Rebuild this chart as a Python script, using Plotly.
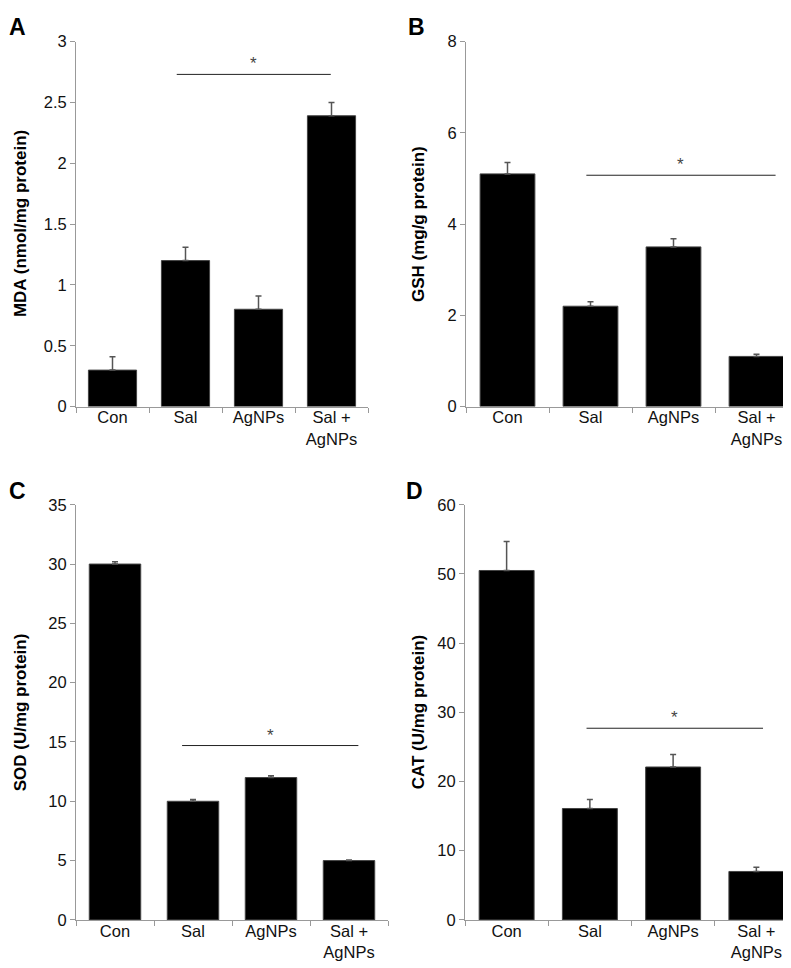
import plotly.graph_objects as go

categories = ["Con", "Sal", "AgNPs", "Sal +<br>AgNPs"]

mda = [0.30, 1.20, 0.80, 2.39]
mda_err = [0.11, 0.11, 0.11, 0.11]
gsh = [5.10, 2.20, 3.50, 1.10]
gsh_err = [0.25, 0.10, 0.18, 0.05]
sod = [30.0, 10.0, 12.0, 5.0]
sod_err = [0.2, 0.15, 0.15, 0.05]
cat = [50.5, 16.1, 22.1, 7.0]
cat_err = [4.2, 1.3, 1.8, 0.6]

y_titles = ["MDA (nmol/mg protein)", "GSH (mg/g protein)", "SOD (U/mg protein)", "CAT (U/mg protein)"]
panel_letters = ["A", "B", "C", "D"]
y_ranges = [[0, 3], [0, 8], [0, 35], [0, 60]]
y_dticks = [0.5, 2, 5, 10]
sig_y = [2.73, 5.07, 14.7, 27.7]
sig_x0 = [0.88, 0.95, 0.86, 0.96]
sig_x1 = [2.99, 3.23, 3.12, 3.08]

W, H = 791, 968
# plot-area pixel boxes: (left, right, top, bottom)
boxes = [(68, 360, 25, 397), (458, 790, 25, 397), (68, 380, 497, 920), (457, 790, 497, 920)]
title_x = [12, 410, 12, 410]
letter_pos = [(9, 10), (409, 10), (9, 483), (407, 483)]

FONT = "Liberation Sans, Arial, sans-serif"
fig = go.Figure()
values = [mda, gsh, sod, cat]
errs = [mda_err, gsh_err, sod_err, cat_err]

for i in range(4):
    xa = "x" if i == 0 else f"x{i+1}"
    ya = "y" if i == 0 else f"y{i+1}"
    fig.add_trace(go.Bar(
        x=categories, y=values[i], xaxis=xa, yaxis=ya,
        marker=dict(color="black", line=dict(color="#444", width=1)),
        error_y=dict(type="data", symmetric=False, array=errs[i], arrayminus=[0]*4,
                     color="#555", thickness=1.5, width=3),
        showlegend=False, hoverinfo="skip"))
    l, r, t, b = boxes[i]
    axkey = "" if i == 0 else str(i+1)
    fig.update_layout(**{
        f"xaxis{axkey}": dict(domain=[l/W, r/W], anchor=ya, type="category",
                              range=[-0.5, 3.5], showline=True, linecolor="#999", linewidth=1,
                              ticks="outside", tickson="boundaries", ticklen=5, tickcolor="#999",
                              showgrid=False, zeroline=False, ticklabelstandoff=-4,
                              tickfont=dict(family=FONT, size=16.5, color="#111")),
        f"yaxis{axkey}": dict(domain=[1-b/H, 1-t/H], anchor=xa, range=y_ranges[i],
                              dtick=y_dticks[i], tick0=0, showline=True, linecolor="#999", linewidth=1,
                              ticks="outside", ticklen=5, tickcolor="#999",
                              showgrid=False, zeroline=False,
                              tickfont=dict(family=FONT, size=16.5, color="#111")),
    })
    fig.add_shape(type="line", xref=xa, yref=ya, x0=sig_x0[i], x1=sig_x1[i],
                  y0=sig_y[i], y1=sig_y[i], line=dict(color="#222", width=1))
    fig.add_annotation(xref=xa, yref=ya, x=(sig_x0[i]+sig_x1[i])/2, y=sig_y[i],
                       text="*", showarrow=False, yanchor="bottom", yshift=-1,
                       font=dict(family=FONT, size=17, color="#444"))
    fig.add_annotation(xref="paper", yref="paper", x=title_x[i]/W, y=1-((t+b)/2)/H,
                       text=f"<b>{y_titles[i]}</b>", textangle=-90, showarrow=False,
                       xanchor="center", yanchor="middle",
                       font=dict(family=FONT, size=17, color="black"))
    lx, ly = letter_pos[i]
    fig.add_annotation(xref="paper", yref="paper", x=lx/W, y=1-ly/H,
                       text=f"<b>{panel_letters[i]}</b>", showarrow=False,
                       xanchor="center", yanchor="middle",
                       font=dict(family=FONT, size=23, color="black"))

fig.update_layout(width=W, height=H, margin=dict(l=0, r=0, t=0, b=0),
                  paper_bgcolor="white", plot_bgcolor="white", bargap=0.34)
fig.write_html("out.html")
